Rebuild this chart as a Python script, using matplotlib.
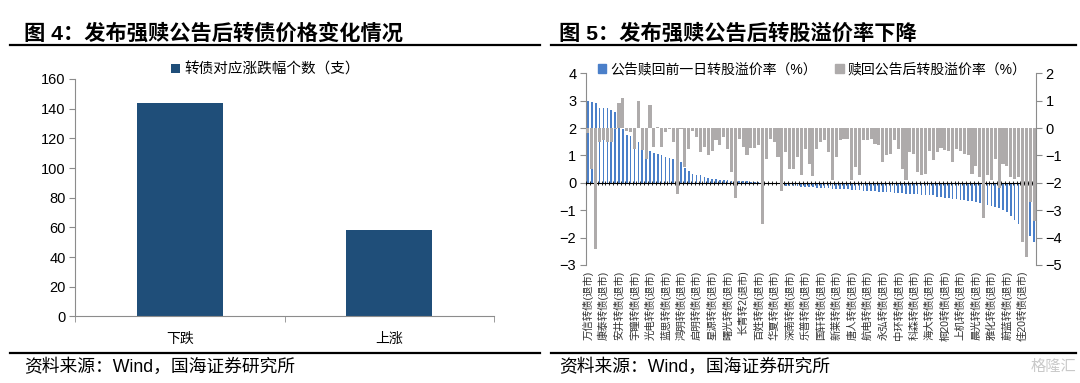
import matplotlib
matplotlib.use('Agg')
import matplotlib.pyplot as plt
from matplotlib.lines import Line2D
from matplotlib.patches import Patch
import numpy as np

plt.rcParams['font.family'] = ['Liberation Sans', 'Noto Sans CJK SC']

# ---------------- data ----------------
left_title = '图 4：发布强赎公告后转债价格变化情况'
right_title = '图 5：发布强赎公告后转股溢价率下降'
source_text = '资料来源：Wind，国海证券研究所'

left_categories = ['下跌', '上涨']
left_values = [144, 58]
left_series_name = '转债对应涨跌幅个数（支）'

right_series_before = '公告赎回前一日转股溢价率（%）'
right_series_after = '赎回公告后转股溢价率（%）'

# bond labels shown on the axis (every 4th bond)
bond_labels = ['万信转债(退市)', '康泰转债(退市)', '安井转债(退市)', '宇瞳转债(退市)',
               '光电转债(退市)', '蓝思转债(退市)', '鸿明转债(退市)', '启明转债(退市)',
               '星源转债(退市)', '曙光转债(退市)', '长青转2(退市)', '百姓转债(退市)',
               '华夏转债(退市)', '深南转债(退市)', '乐普转债(退市)', '国轩转债(退市)',
               '新莱转债(退市)', '唐人转债(退市)', '航电转债(退市)', '永弘转债(退市)',
               '中环转债(退市)', '科森转债(退市)', '海大转债(退市)', '桐20转债(退市)',
               '上机转债(退市)', '晨光转债(退市)', '雅化转债(退市)', '蔚蓝转债(退市)',
               '佳20转债(退市)']
label_step = 4

premium_before = [
    3.0, 2.95, 2.9, 2.75, 2.73, 2.73, 2.67, 2.6, 2.0, 1.97,
    1.75, 1.7, 1.62, 1.5, 1.38, 1.3, 1.15, 1.1, 1.05, 1.0,
    0.95, 0.9, 0.87, 0.8, 0.75, 0.55, 0.42, 0.32, 0.3, 0.27,
    0.2, 0.18, 0.15, 0.13, 0.12, 0.1, 0.1, 0.08, 0.07, 0.06,
    0.05, 0.05, 0.04, 0.03, 0.03, 0.02, 0.01, -0.02, -0.04, -0.06,
    -0.08, -0.1, -0.11, -0.12, -0.13, -0.14, -0.15, -0.16, -0.17, -0.18,
    -0.19, -0.2, -0.2, -0.21, -0.22, -0.22, -0.23, -0.24, -0.25, -0.26,
    -0.27, -0.28, -0.29, -0.3, -0.31, -0.32, -0.33, -0.34, -0.35, -0.36,
    -0.37, -0.38, -0.39, -0.4, -0.41, -0.42, -0.43, -0.44, -0.45, -0.46,
    -0.5, -0.52, -0.54, -0.56, -0.58, -0.6, -0.62, -0.64, -0.66, -0.68,
    -0.7, -0.74, -0.78, -0.8, -0.84, -0.88, -0.93, -0.98, -1.07, -1.2,
    -1.35, -1.5, -1.6, -1.75, -1.95, -2.15]

premium_after = [
    -0.18, -1.49, -4.41, -0.51, -0.45, -0.5, -0.5, -0.05, 0.9, 1.1,
    -0.1, -0.15, -0.75, 1.0, -0.8, -1.12, 0.85, -0.7, 0.04, -0.7,
    -0.15, -0.03, -0.51, -2.4, -0.02, -1.43, -0.75, -0.1, -0.33, -0.88,
    -0.7, -1.0, -0.82, -0.45, -0.63, -0.33, -0.75, -1.59, -2.55, -0.4,
    -0.7, -1.0, -0.72, -0.72, -0.62, -3.5, -1.12, -0.4, -0.5, -1.06,
    -2.28, -0.88, -1.5, -1.5, -1.06, -1.73, -0.75,
    -1.3, -1.75, -0.75, -0.5, -0.45, -0.88, -1.9, -1.06, -0.45, -0.4,
    -0.4, -1.9, -1.43, -1.73, -0.45, -0.45, -0.4, -0.57, -0.63, -1.24,
    -1.0, -0.94, -0.45, -0.75, -1.49, -1.91, -0.88, -0.94, -1.6, -1.73,
    -1.67, -0.82, -1.18, -0.88, -0.72, -0.79, -0.82, -1.24, -0.75, -0.85,
    -0.94, -1.0, -1.67, -1.37, -1.8, -3.3, -1.73, -1.91, -1.12, -2.2,
    -1.3, -1.37, -1.8, -1.85, -1.8, -4.17, -4.72, -2.7, -3.4]

# ---------------- figure ----------------
W, H = 1080, 383
fig = plt.figure(figsize=(W / 100, H / 100), dpi=100)

def fx(px):
    return px / W

def fy(py):
    return 1 - py / H

axis_gray = '#8c8c8c'
navy = '#1f4e79'
blue = '#4a7fc9'
gray = '#aeabab'

# titles and rules
fig.text(fx(24), fy(33), left_title, fontsize=15.3, fontweight='bold', va='center', ha='left')
fig.text(fx(559), fy(33), right_title, fontsize=15.3, fontweight='bold', va='center', ha='left')
for x0, x1 in [(10, 540), (551, 1076)]:
    fig.add_artist(Line2D([fx(x0), fx(x1)], [fy(45), fy(45)], color='black', lw=1.6,
                          transform=fig.transFigure))
    fig.add_artist(Line2D([fx(x0), fx(x1)], [fy(353), fy(353)], color='black', lw=1.6,
                          transform=fig.transFigure))
fig.text(fx(24), fy(367), source_text, fontsize=12.8, va='center', ha='left')
fig.text(fx(559), fy(367), source_text, fontsize=12.8, va='center', ha='left')
fig.text(fx(1076), fy(367), '格隆汇', fontsize=11, va='center', ha='right', color='#c9c9c9')

# ---------------- left chart ----------------
ax1 = fig.add_axes([fx(75.3), fy(316.4), fx(494) - fx(75.3), fy(79) - fy(316.4)])
xpos = np.arange(len(left_categories))
ax1.bar(xpos, left_values, width=0.41, color=navy, label=left_series_name, zorder=2)
ax1.set_xlim(-0.5, len(left_categories) - 0.5)
ax1.set_ylim(0, 160)
ax1.set_yticks(np.arange(0, 161, 20))
ax1.set_xticks(xpos)
ax1.set_xticklabels(left_categories, fontsize=10)
ax1.set_xticks(np.arange(-0.5, len(left_categories), 1), minor=True)
ax1.tick_params(axis='x', which='major', length=0, pad=11)
ax1.tick_params(axis='x', which='minor', length=4, color=axis_gray, direction='out')
ax1.tick_params(axis='y', labelsize=10.5, length=4, color=axis_gray, direction='out', pad=3)
for s in ['top', 'right']:
    ax1.spines[s].set_visible(False)
for s in ['left', 'bottom']:
    ax1.spines[s].set_color(axis_gray)
    ax1.spines[s].set_linewidth(0.8)
ax1.legend(loc='center left', bbox_to_anchor=(fx(171), fy(69.5)), bbox_transform=fig.transFigure,
           frameon=False, fontsize=10.5, handlelength=0.6, handleheight=0.6, handletextpad=0.3,
           borderpad=0, borderaxespad=0)

# ---------------- right chart ----------------
ax2 = fig.add_axes([fx(586), fy(265), fx(1036) - fx(586), fy(73.3) - fy(265)])
n = len(premium_before)
pos = np.arange(n)
ax2.bar(pos, premium_before, width=0.42, color=blue, zorder=2)
ax2.set_xlim(-0.5, n - 0.5)
ax2.set_ylim(-3, 4)
ax2.set_yticks(np.arange(-3, 5, 1))
ax2.set_xticks(pos[::label_step])
ax2.set_xticklabels(bond_labels, rotation=90, fontsize=7.5, color='#333333')
ax2.tick_params(axis='x', length=0, pad=4)
ax2.tick_params(axis='y', labelsize=10.5, length=4, color=axis_gray, direction='out', pad=3)
for s in ['top', 'right', 'bottom']:
    ax2.spines[s].set_visible(False)
ax2.spines['left'].set_color(axis_gray)
ax2.spines['left'].set_linewidth(0.8)

ax3 = ax2.twinx()
ax3.bar(pos, premium_after, width=0.8, color=gray, zorder=2)
ax3.set_ylim(-5, 2)
ax3.set_yticks(np.arange(-5, 3, 1))
ax3.tick_params(axis='y', labelsize=10.5, length=4, color=axis_gray, direction='out', pad=3)
for s in ['top', 'left', 'bottom']:
    ax3.spines[s].set_visible(False)
ax3.spines['right'].set_color(axis_gray)
ax3.spines['right'].set_linewidth(0.8)

# category axis crossing at zero (left scale), drawn above the bars
zero_frac = (0 - (-3)) / 7
sec = ax3.secondary_xaxis(zero_frac)
sec.set_xticks(np.arange(-0.5, n, 1))
sec.set_xticklabels([])
sec.tick_params(axis='x', length=3, direction='inout', width=0.6, color='black')
sec.spines['bottom'].set_color('black')
sec.spines['bottom'].set_linewidth(0.8)

handles = [Patch(color=blue), Patch(color=gray)]
ax3.legend(handles, [right_series_before, right_series_after], loc='center left', ncol=2,
           bbox_to_anchor=(fx(598), fy(69)), bbox_transform=fig.transFigure,
           frameon=False, fontsize=10, handlelength=0.6, handleheight=0.6, handletextpad=0.3,
           columnspacing=1.3, borderpad=0, borderaxespad=0)

fig.savefig('out.png', dpi=100)
